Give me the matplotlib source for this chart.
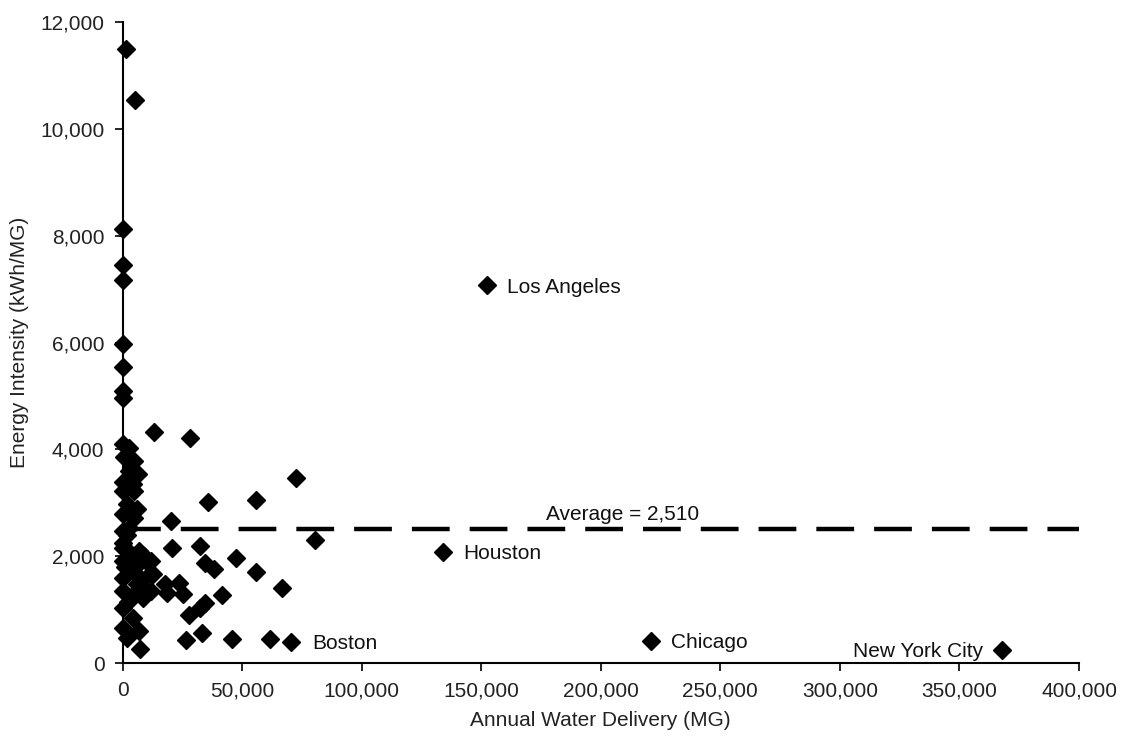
import matplotlib.pyplot as plt
from matplotlib.ticker import FuncFormatter

plt.rcParams['font.family'] = ['Liberation Sans', 'DejaVu Sans']

# Annual water delivery (MG) and energy intensity (kWh/MG) per utility
delivery = [
    1250, 5400, 400, 400, 400, 400, 400, 400, 400,
    13000, 28400, 72400, 35600, 56000, 20100, 80300, 20900, 32600,
    34700, 38100, 47300, 56000, 66900, 17600, 23800, 25500, 18400,
    41400, 27600, 32200, 34700, 26400, 33100, 45600, 61500, 7500,
    10000, 12100, 12600, 12100,
    0, 2900, 500, 5000, 6300, 2900, 0, 4200, 0, 5000, 5900, 1700,
    0, 5000, 0, 2900, 300, 300, 7100, 0, 10000, 4200, 11300, 0,
    5900, 0, 8400, 300, 4200, 300, 7100, 1700, 2000, 3500, 1000,
    6500, 8000, 2500, 3800, 9000,
]
intensity = [
    11500, 10550, 8120, 7450, 7170, 5980, 5550, 5100, 4970,
    4330, 4220, 3470, 3020, 3050, 2660, 2310, 2160, 2200,
    1880, 1760, 1970, 1710, 1400, 1480, 1500, 1290, 1310,
    1270, 910, 1030, 1120, 430, 560, 450, 450, 260,
    1350, 1910, 1670, 1350,
    4100, 4030, 3850, 3790, 3540, 3600, 3400, 3350, 3220, 3220, 2880, 2980,
    2790, 2710, 2470, 2530, 2250, 2160, 2100, 1910, 1910, 1720, 1670, 1590,
    1480, 1350, 1220, 1030, 840, 660, 600, 470, 2400, 2050, 1800,
    1850, 1550, 1150, 1250, 2000,
]

# labelled cities
cities = ['Los Angeles', 'Houston', 'Chicago', 'Boston', 'New York City']
city_delivery = [152300, 133900, 221000, 70300, 367800]
city_intensity = [7070, 2080, 410, 390, 240]

average = 2510

fig = plt.figure(figsize=(11.24, 7.36), dpi=100)
ax = fig.add_axes([0.109, 0.099, 0.851, 0.871])

ax.plot(delivery + city_delivery, intensity + city_intensity, 'D', color='black',
        markersize=9.5, clip_on=False, zorder=3)

ax.plot([0, 400000], [average, average], color='black', linewidth=3.2,
        dashes=(8.5, 4.5), zorder=2)
ax.text(209000, average + 100, 'Average = 2,510', fontsize=15, ha='center',
        va='bottom', color='#111111')

offsets = {'Los Angeles': (8500, 'left'), 'Houston': (8500, 'left'),
           'Chicago': (8500, 'left'), 'Boston': (9000, 'left'),
           'New York City': (-8000, 'right')}
for name, x, y in zip(cities, city_delivery, city_intensity):
    dx, ha = offsets[name]
    ax.text(x + dx, y - 30, name, fontsize=15, ha=ha, va='center', color='#111111')

ax.set_xlim(0, 400000)
ax.set_ylim(0, 12000)
ax.set_xticks(range(0, 400001, 50000))
ax.set_yticks(range(0, 12001, 2000))
fmt = FuncFormatter(lambda v, p: f'{int(v):,}')
ax.xaxis.set_major_formatter(fmt)
ax.yaxis.set_major_formatter(fmt)
ax.tick_params(labelsize=15, direction='out', length=6, width=1.2, colors='black',
               labelcolor='#222222', pad=7)
ax.spines['top'].set_visible(False)
ax.spines['right'].set_visible(False)
ax.spines['left'].set_linewidth(1.5)
ax.spines['bottom'].set_linewidth(1.5)

ax.set_xlabel('Annual Water Delivery (MG)', fontsize=15, color='#222222', labelpad=8)
ax.set_ylabel('Energy Intensity (kWh/MG)', fontsize=15, color='#222222', labelpad=8)

fig.savefig('out.png', dpi=100)
